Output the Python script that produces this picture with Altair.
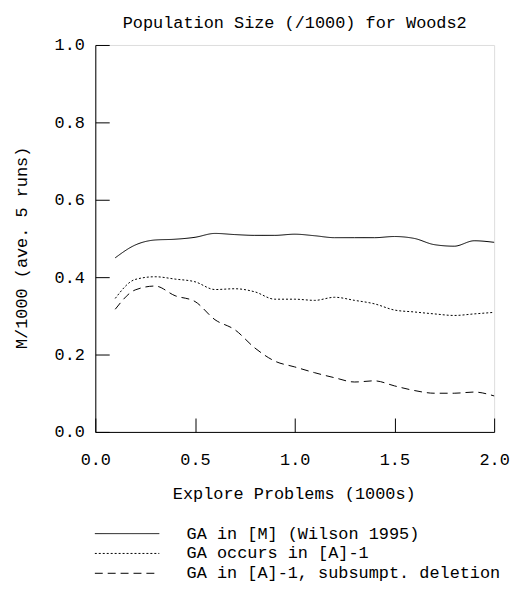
import altair as alt
import pandas as pd

# ---- data ----
x_vals = [0.1, 0.2, 0.3, 0.4, 0.5, 0.6, 0.7, 0.8, 0.9, 1.0,
          1.1, 1.2, 1.3, 1.4, 1.5, 1.6, 1.7, 1.8, 1.9, 2.0]
ga_m = [0.450, 0.483, 0.496, 0.498, 0.503, 0.513, 0.510, 0.508, 0.508, 0.511,
        0.507, 0.502, 0.502, 0.502, 0.505, 0.500, 0.484, 0.480, 0.494, 0.490]
ga_a = [0.345, 0.394, 0.401, 0.395, 0.388, 0.368, 0.370, 0.362, 0.343, 0.343,
        0.340, 0.348, 0.340, 0.331, 0.315, 0.310, 0.305, 0.301, 0.305, 0.309]
ga_sub = [0.317, 0.367, 0.377, 0.352, 0.337, 0.290, 0.264, 0.217, 0.183, 0.168,
          0.153, 0.140, 0.129, 0.132, 0.119, 0.107, 0.100, 0.100, 0.103, 0.093]
series_names = ["GA in [M] (Wilson 1995)", "GA occurs in [A]-1",
                "GA in [A]-1, subsumpt. deletion"]
x_ticks = [0.0, 0.5, 1.0, 1.5, 2.0]
y_ticks = [0.0, 0.2, 0.4, 0.6, 0.8, 1.0]

rows = []
for name, vals in zip(series_names, [ga_m, ga_a, ga_sub]):
    for xv, yv in zip(x_vals, vals):
        rows.append({"x": xv, "y": yv, "series": name})
df = pd.DataFrame(rows)

FONT = "Liberation Mono"
FS = 17
INK = "#000000"
W, H = 402, 390
INWARD = alt.ExprRef(expr="-14")

xscale = alt.Scale(domain=[0, 2], nice=False, zero=False)
yscale = alt.Scale(domain=[0, 1], nice=False, zero=False)

chart = alt.Chart(df).mark_line(color=INK, strokeWidth=1, interpolate="monotone").encode(
    x=alt.X("x:Q", scale=xscale,
            axis=alt.Axis(values=x_ticks, format=".1f", grid=False,
                          ticks=True, tickSize=INWARD, tickColor=INK, tickWidth=1,
                          labelPadding=34, labelFlush=False,
                          labelFont=FONT, labelFontSize=FS, labelColor=INK,
                          domainColor=INK, domainWidth=1,
                          title="Explore Problems (1000s)", titleFont=FONT,
                          titleFontSize=FS, titleFontWeight="normal", titleColor=INK,
                          titleY=67, titleX=200, titleBaseline="alphabetic",
                          titleAlign="center")),
    y=alt.Y("y:Q", scale=yscale,
            axis=alt.Axis(values=y_ticks, format=".1f", grid=False,
                          ticks=True, tickSize=INWARD, tickColor=INK, tickWidth=1,
                          labelPadding=25,
                          labelFont=FONT, labelFontSize=FS, labelColor=INK,
                          domainColor=INK, domainWidth=1,
                          title="M/1000 (ave. 5 runs)", titleFont=FONT,
                          titleFontSize=FS, titleFontWeight="normal", titleColor=INK,
                          titleX=-74, titleY=204, titleAngle=270,
                          titleAlign="center", titleBaseline="middle")),
    strokeDash=alt.StrokeDash(
        "series:N",
        scale=alt.Scale(domain=series_names, range=[[1, 0], [2, 2], [8, 5]]),
        legend=alt.Legend(title=None, orient="none", legendX=-1, legendY=484,
                          symbolType="stroke", symbolSize=4225, symbolStrokeWidth=1,
                          symbolStrokeColor=INK, clipHeight=17, rowPadding=2,
                          padding=0, labelOffset=27, labelLimit=400,
                          labelFont=FONT, labelFontSize=FS, labelColor=INK,
                          labelBaseline="middle")),
).properties(
    width=W, height=H,
    title=alt.TitleParams("Population Size (/1000) for Woods2", font=FONT,
                          fontSize=FS, fontWeight="normal", color=INK,
                          anchor="middle", offset=4),
    autosize=alt.AutoSizeParams(type="none"),
    padding={"left": 88, "top": 35, "right": 18, "bottom": 150},
).configure_view(strokeWidth=0).configure(background="white")

chart.save("out.html", embed_options={"renderer": "svg", "actions": False})
